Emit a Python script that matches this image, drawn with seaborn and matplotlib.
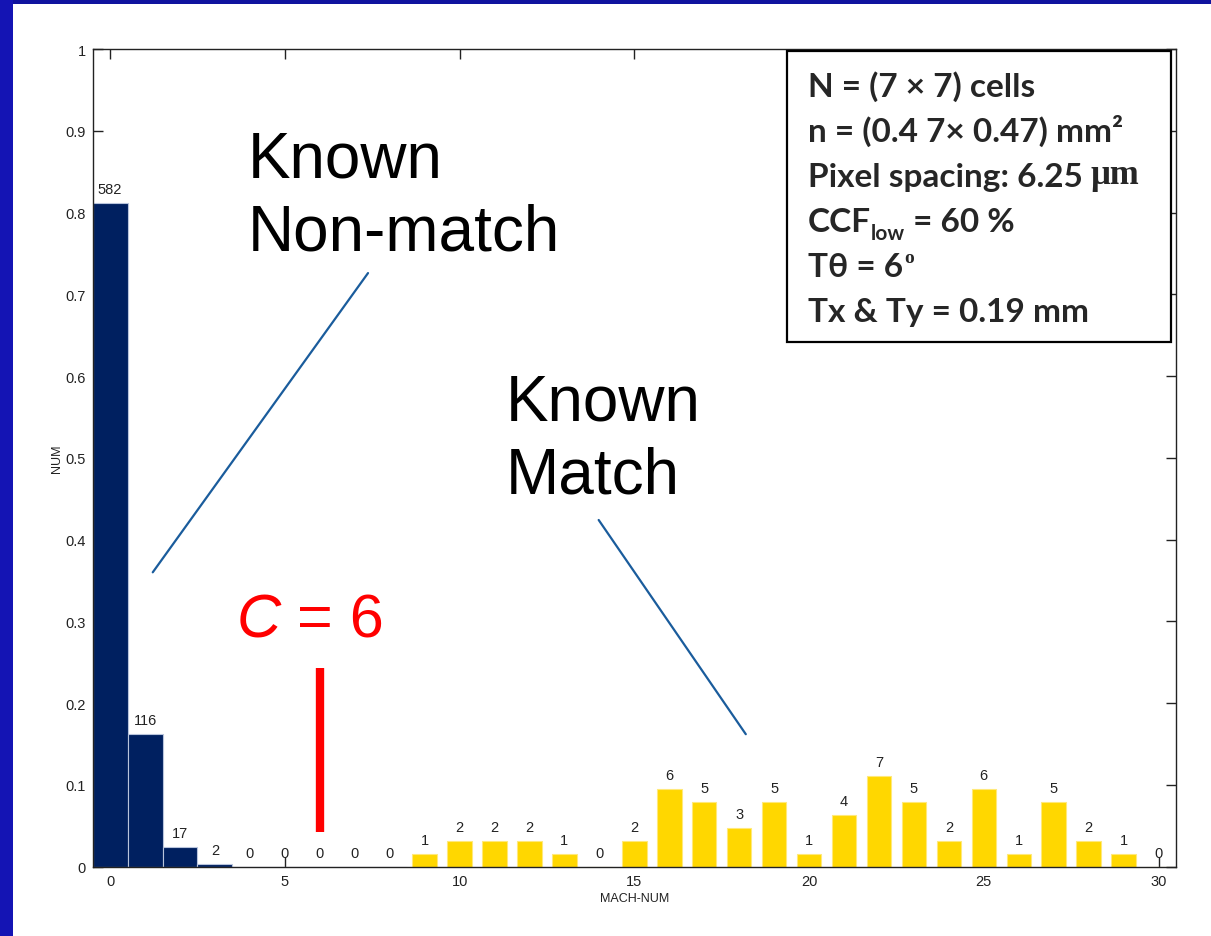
import numpy as np
import pandas as pd
import matplotlib.pyplot as plt
import seaborn as sns
from matplotlib.patches import Rectangle

nonmatch_x = list(range(0, 9))
nonmatch_counts = [582, 116, 17, 2, 0, 0, 0, 0, 0]
match_x = list(range(9, 31))
match_counts = [1, 2, 2, 2, 1, 0, 2, 6, 5, 3, 5, 1, 4, 7, 5, 2, 6, 1, 5, 2, 1, 0]
cutoff = 6
cutoff_span = (0.043, 0.243)

box_lines = ["N = (7 \u00d7 7) cells", "n = (0.4 7\u00d7 0.47) mm\u00b2",
             "Pixel spacing: 6.25 ", "CCF", "T\u03b8 = 6", "Tx & Ty = 0.19 mm"]

nm = pd.DataFrame({'x': nonmatch_x, 'count': nonmatch_counts})
nm['num'] = nm['count'] / nm['count'].sum()
km = pd.DataFrame({'x': match_x, 'count': match_counts})
km['num'] = km['count'] / km['count'].sum()

sns.set_style('ticks')
plt.rcParams['font.family'] = ['Liberation Sans', 'DejaVu Sans']

fig = plt.figure(figsize=(12.11, 9.37), dpi=100)
ax = fig.add_axes([0.0765, 0.074, 0.8946, 0.8726])

sns.barplot(data=nm, x='x', y='num', native_scale=True, width=1.0,
            color='#002060', saturation=1, edgecolor='#b8c4dc', linewidth=0.8,
            errorbar=None, ax=ax)
sns.barplot(data=km, x='x', y='num', native_scale=True, width=0.7,
            color='#FFD700', saturation=1, edgecolor='#FFE97A', linewidth=0.8,
            errorbar=None, ax=ax)

ax.bar_label(ax.containers[0], labels=[str(c) for c in nonmatch_counts],
             padding=5, fontsize=10.5, color='#222222')
ax.bar_label(ax.containers[1], labels=[str(c) for c in match_counts],
             padding=5, fontsize=10.5, color='#222222')

ax.set_xlim(-0.5, 30.5)
ax.set_ylim(0, 1)
ax.set_xticks(range(0, 31, 5))
ax.set_xticklabels([str(v) for v in range(0, 31, 5)])
ax.set_yticks(np.round(np.arange(0, 1.01, 0.1), 1))
ax.set_yticklabels([f'{v:g}' for v in np.round(np.arange(0, 1.01, 0.1), 1)])
ax.tick_params(direction='in', length=7, width=1, top=True, right=True,
               labelsize=10.5, labelcolor='#222222', color='#222222', pad=5)
for s in ax.spines.values():
    s.set_visible(True)
    s.set_color('#222222')
    s.set_linewidth(1)
ax.set_xlabel('MACH-NUM', fontsize=9, color='#222222', labelpad=3)
ax.set_ylabel('NUM', fontsize=9, color='#222222', labelpad=2)

# cutoff marker
ax.plot([cutoff, cutoff], list(cutoff_span), color='red', lw=6,
        solid_capstyle='butt', zorder=4)
c_txt = ax.text(3.61, 0.281, 'C', color='red', fontsize=44, style='italic',
                va='baseline', ha='left')
ax.annotate(' = 6', xy=(1, 0), xycoords=c_txt, va='bottom', ha='left',
            color='red', fontsize=44)

# big annotations (va='baseline' anchors the last line)
ax.text(3.93, 0.755, 'Known\nNon-match', fontsize=46, va='baseline', ha='left',
        linespacing=1.28, color='black')
ax.plot([7.38, 1.22], [0.726, 0.360], color='#1A5C9C', lw=1.6)
ax.text(11.32, 0.458, 'Known\nMatch', fontsize=46, va='baseline', ha='left',
        linespacing=1.28, color='black')
ax.plot([13.98, 18.19], [0.424, 0.162], color='#1A5C9C', lw=1.6)

# parameter box
ax.add_patch(Rectangle((0.641, 0.6417), 0.3544, 0.3559, transform=ax.transAxes,
                       facecolor='white', edgecolor='black', lw=1.6,
                       clip_on=False, zorder=5))
bfont = ['Lato', 'DejaVu Sans']
tx = 0.660
texts = []
for i, line in enumerate(box_lines):
    y = (867.7 - (97 + 45 * i)) / 817.7
    t = ax.text(tx, y, line, transform=ax.transAxes, fontsize=24,
                family=bfont, weight='bold', va='baseline', ha='left', zorder=6)
    texts.append(t)

ax.annotate('\u03bcm', xy=(1, 0), xycoords=texts[2], va='bottom', ha='left',
            fontsize=25, family=['Liberation Serif'], weight='bold', zorder=6)
low = ax.annotate('low', xy=(1, 0), xycoords=texts[3], xytext=(0, -5),
                  textcoords='offset points', va='bottom', ha='left',
                  fontsize=15, family=bfont, weight='bold', zorder=6)
ax.annotate(' = 60 %', xy=(1, 0), xycoords=(low, texts[3]), va='bottom',
            ha='left', fontsize=24, family=bfont, weight='bold', zorder=6)
ax.annotate('o', xy=(1, 1), xycoords=texts[4], xytext=(1, 2),
            textcoords='offset points', va='top', ha='left',
            fontsize=14, family=['Liberation Serif'], weight='bold', zorder=6)

# slide frame
fig.patches.append(Rectangle((0, 1 - 5 / 937), 1, 5 / 937, transform=fig.transFigure,
                             facecolor='#10139E', edgecolor='none', zorder=10))
fig.patches.append(Rectangle((0, 0), 13 / 1211, 1, transform=fig.transFigure,
                             facecolor='#1414B4', edgecolor='none', zorder=10))

fig.savefig('out.png', dpi=100)
